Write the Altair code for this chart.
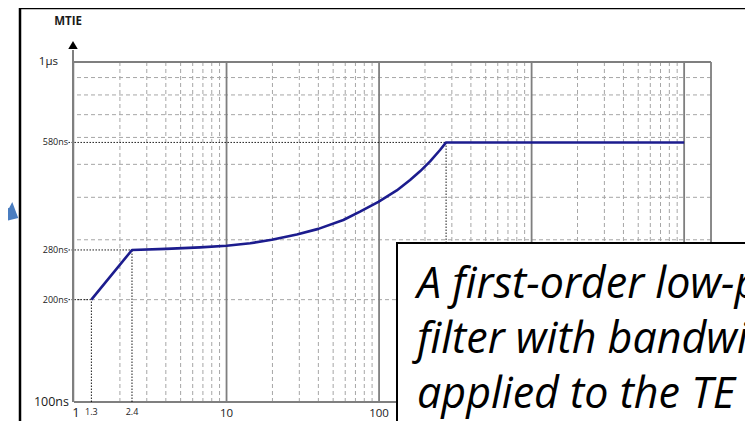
import altair as alt
import pandas as pd

# ---- data ----
curve_x = [1.3, 2.4, 4, 6.7, 10, 14.3, 19.8, 28.9, 40, 58.3, 75, 99, 130.6, 159.7,
           185.6, 216, 251, 275, 10000]
curve_y = [200, 280, 282, 285, 288, 293, 300, 311, 323, 343, 363, 388, 419, 450,
           477, 510, 551, 580, 580]

grid_x_minor = [m * d for d in [1, 10, 100, 1000] for m in range(2, 10)]
grid_x_major = [10, 100, 1000, 10000, 15000]
grid_y_minor = [200, 300, 400, 500, 600, 700, 800, 900]

ref_x = [1.3, 2.4, 275]
ref_y = [200, 280, 580]

x_big_labels = ["10", "100"]
x_big_vals = [10, 100]
x_small_labels = ["1.3", "2.4"]
x_small_vals = [1.3, 2.4]

y_small_labels = ["580ns", "280ns", "200ns"]
y_small_vals = [580, 280, 200]

box_lines = ["A first-order low-pass", "filter with bandwidth", "applied to the TE"]

FONT = "Open Sans"
W, H = 637, 340

xs = alt.Scale(type="log", domain=[1, 15000], nice=False)
ys = alt.Scale(type="log", domain=[100, 1000], nice=False)

one = pd.DataFrame({"a": [0]})

grid_minor_v = alt.Chart(pd.DataFrame({"x": grid_x_minor})).mark_rule(
    color="#a6a6a6", strokeWidth=1, strokeDash=[4, 3]
).encode(x=alt.X("x:Q", scale=xs, axis=None))

grid_minor_h = alt.Chart(pd.DataFrame({"y": grid_y_minor})).mark_rule(
    color="#a6a6a6", strokeWidth=1, strokeDash=[4, 3]
).encode(y=alt.Y("y:Q", scale=ys, axis=None))

grid_major_v = alt.Chart(pd.DataFrame({"x": grid_x_major})).mark_rule(
    color="#7f7f7f", strokeWidth=1.8
).encode(x=alt.X("x:Q", scale=xs, axis=None))

frame_h = alt.Chart(pd.DataFrame({"y": [100, 1000]})).mark_rule(
    color="#7f7f7f", strokeWidth=1.8
).encode(y=alt.Y("y:Q", scale=ys, axis=None))

yaxis_line = alt.Chart(one).mark_rule(color="#7f7f7f", strokeWidth=2).encode(
    x=alt.value(-1), y=alt.value(-12), y2=alt.value(H)
)

up_arrow = alt.Chart(one).mark_point(
    shape="triangle-up", filled=True, color="#000000", size=90, opacity=1
).encode(x=alt.value(-1), y=alt.value(-17))

# dotted reference lines
ref_df = pd.DataFrame({"x": ref_x, "y": ref_y})
ref_df["x0"] = 0.92
ref_df["y0"] = 100
ref_h = alt.Chart(ref_df).mark_rule(
    color="#000000", strokeWidth=0.9, strokeDash=[1.5, 1.5]
).encode(
    x=alt.X("x0:Q", scale=xs, axis=None), x2="x:Q",
    y=alt.Y("y:Q", scale=ys, axis=None),
)
ref_v = alt.Chart(ref_df).mark_rule(
    color="#000000", strokeWidth=0.9, strokeDash=[1.5, 1.5]
).encode(
    x=alt.X("x:Q", scale=xs, axis=None),
    y=alt.Y("y0:Q", scale=ys, axis=None), y2="y:Q",
)

curve = alt.Chart(pd.DataFrame({"x": curve_x, "y": curve_y})).mark_line(
    color="#1c1c8e", strokeWidth=2.6, strokeJoin="round"
).encode(
    x=alt.X("x:Q", scale=xs, axis=None),
    y=alt.Y("y:Q", scale=ys, axis=None),
)

# tick labels
ylab_small = alt.Chart(pd.DataFrame({"y": y_small_vals, "t": y_small_labels})).mark_text(
    align="right", baseline="middle", font=FONT, fontSize=9, color="#1a1a1a"
).encode(y=alt.Y("y:Q", scale=ys, axis=None), x=alt.value(-6), text="t:N")

ylab_top = alt.Chart(pd.DataFrame({"y": [1000], "t": ["1µs"]})).mark_text(
    align="right", baseline="middle", font=FONT, fontSize=11.5, color="#1a1a1a"
).encode(y=alt.Y("y:Q", scale=ys, axis=None), x=alt.value(-16), text="t:N")

ylab_bot = alt.Chart(pd.DataFrame({"y": [100], "t": ["100ns"]})).mark_text(
    align="right", baseline="middle", font=FONT, fontSize=12.5, color="#1a1a1a"
).encode(y=alt.Y("y:Q", scale=ys, axis=None), x=alt.value(-5), text="t:N")

xlab_one = alt.Chart(pd.DataFrame({"x": [1], "t": ["1"]})).mark_text(
    align="center", baseline="middle", font=FONT, fontSize=13, color="#1a1a1a", dx=2
).encode(x=alt.X("x:Q", scale=xs, axis=None), y=alt.value(H + 11), text="t:N")

xlab_big = alt.Chart(pd.DataFrame({"x": x_big_vals, "t": x_big_labels})).mark_text(
    align="center", baseline="middle", font=FONT, fontSize=11.5, color="#1a1a1a"
).encode(x=alt.X("x:Q", scale=xs, axis=None), y=alt.value(H + 12), text="t:N")

xlab_small = alt.Chart(pd.DataFrame({"x": x_small_vals, "t": x_small_labels})).mark_text(
    align="center", baseline="middle", font=FONT, fontSize=9, color="#1a1a1a"
).encode(x=alt.X("x:Q", scale=xs, axis=None), y=alt.value(H + 10), text="t:N")

title = alt.Chart(pd.DataFrame({"t": ["MTIE"]})).mark_text(
    align="center", baseline="middle", font=FONT, fontSize=11.5, fontWeight="bold", color="#1a1a1a"
).encode(x=alt.value(-6), y=alt.value(-40), text="t:N")

# outer slide frame
frame_left = alt.Chart(one).mark_rule(color="#000000", strokeWidth=2.5).encode(
    x=alt.value(-54), y=alt.value(-54), y2=alt.value(H + 30)
)
frame_top = alt.Chart(one).mark_rule(color="#000000", strokeWidth=2.5).encode(
    y=alt.value(-54), x=alt.value(-54), x2=alt.value(W + 60)
)

ARROW = "M-1,-0.28L0.15,-0.28L0.15,-0.75L1,0L0.15,0.75L0.15,0.28L-1,0.28Z"
blue_arrow = alt.Chart(one).mark_point(
    shape=ARROW, filled=True, color="#4a7dc0", size=900, angle=28, opacity=1
).encode(x=alt.value(-69), y=alt.value(149))

# text box (filled, borders drawn on left and top only; it runs off the page)
box = alt.Chart(one).mark_rect(fill="white", strokeWidth=0).encode(
    x=alt.value(323), x2=alt.value(W + 60), y=alt.value(181), y2=alt.value(H + 60)
)
box_left = alt.Chart(one).mark_rule(color="#000000", strokeWidth=2).encode(
    x=alt.value(323), y=alt.value(181), y2=alt.value(H + 60)
)
box_top = alt.Chart(one).mark_rule(color="#000000", strokeWidth=2).encode(
    y=alt.value(181), x=alt.value(322), x2=alt.value(W + 60)
)

def box_line(i, yv):
    return alt.Chart(pd.DataFrame({"t": [box_lines[i]]})).mark_text(
        align="left", baseline="alphabetic", font=FONT, fontSize=43, fontStyle="italic",
        color="#000000"
    ).encode(x=alt.value(343), y=alt.value(yv), text="t:N")

chart = alt.layer(
    frame_left, frame_top, blue_arrow,
    grid_minor_v, grid_minor_h, grid_major_v, frame_h,
    ref_h, ref_v, yaxis_line, up_arrow, curve,
    ylab_small, ylab_top, ylab_bot, xlab_one, xlab_big, xlab_small, title,
    box, box_left, box_top, box_line(0, 236), box_line(1, 291), box_line(2, 346),
).properties(
    width=W, height=H,
    autosize=alt.AutoSizeParams(type="none"),
    padding={"left": 66, "top": 54, "right": 34, "bottom": 19},
).configure_view(stroke=None).configure(background="white")

chart.save("out.html", embed_options={"renderer": "svg", "actions": False})
